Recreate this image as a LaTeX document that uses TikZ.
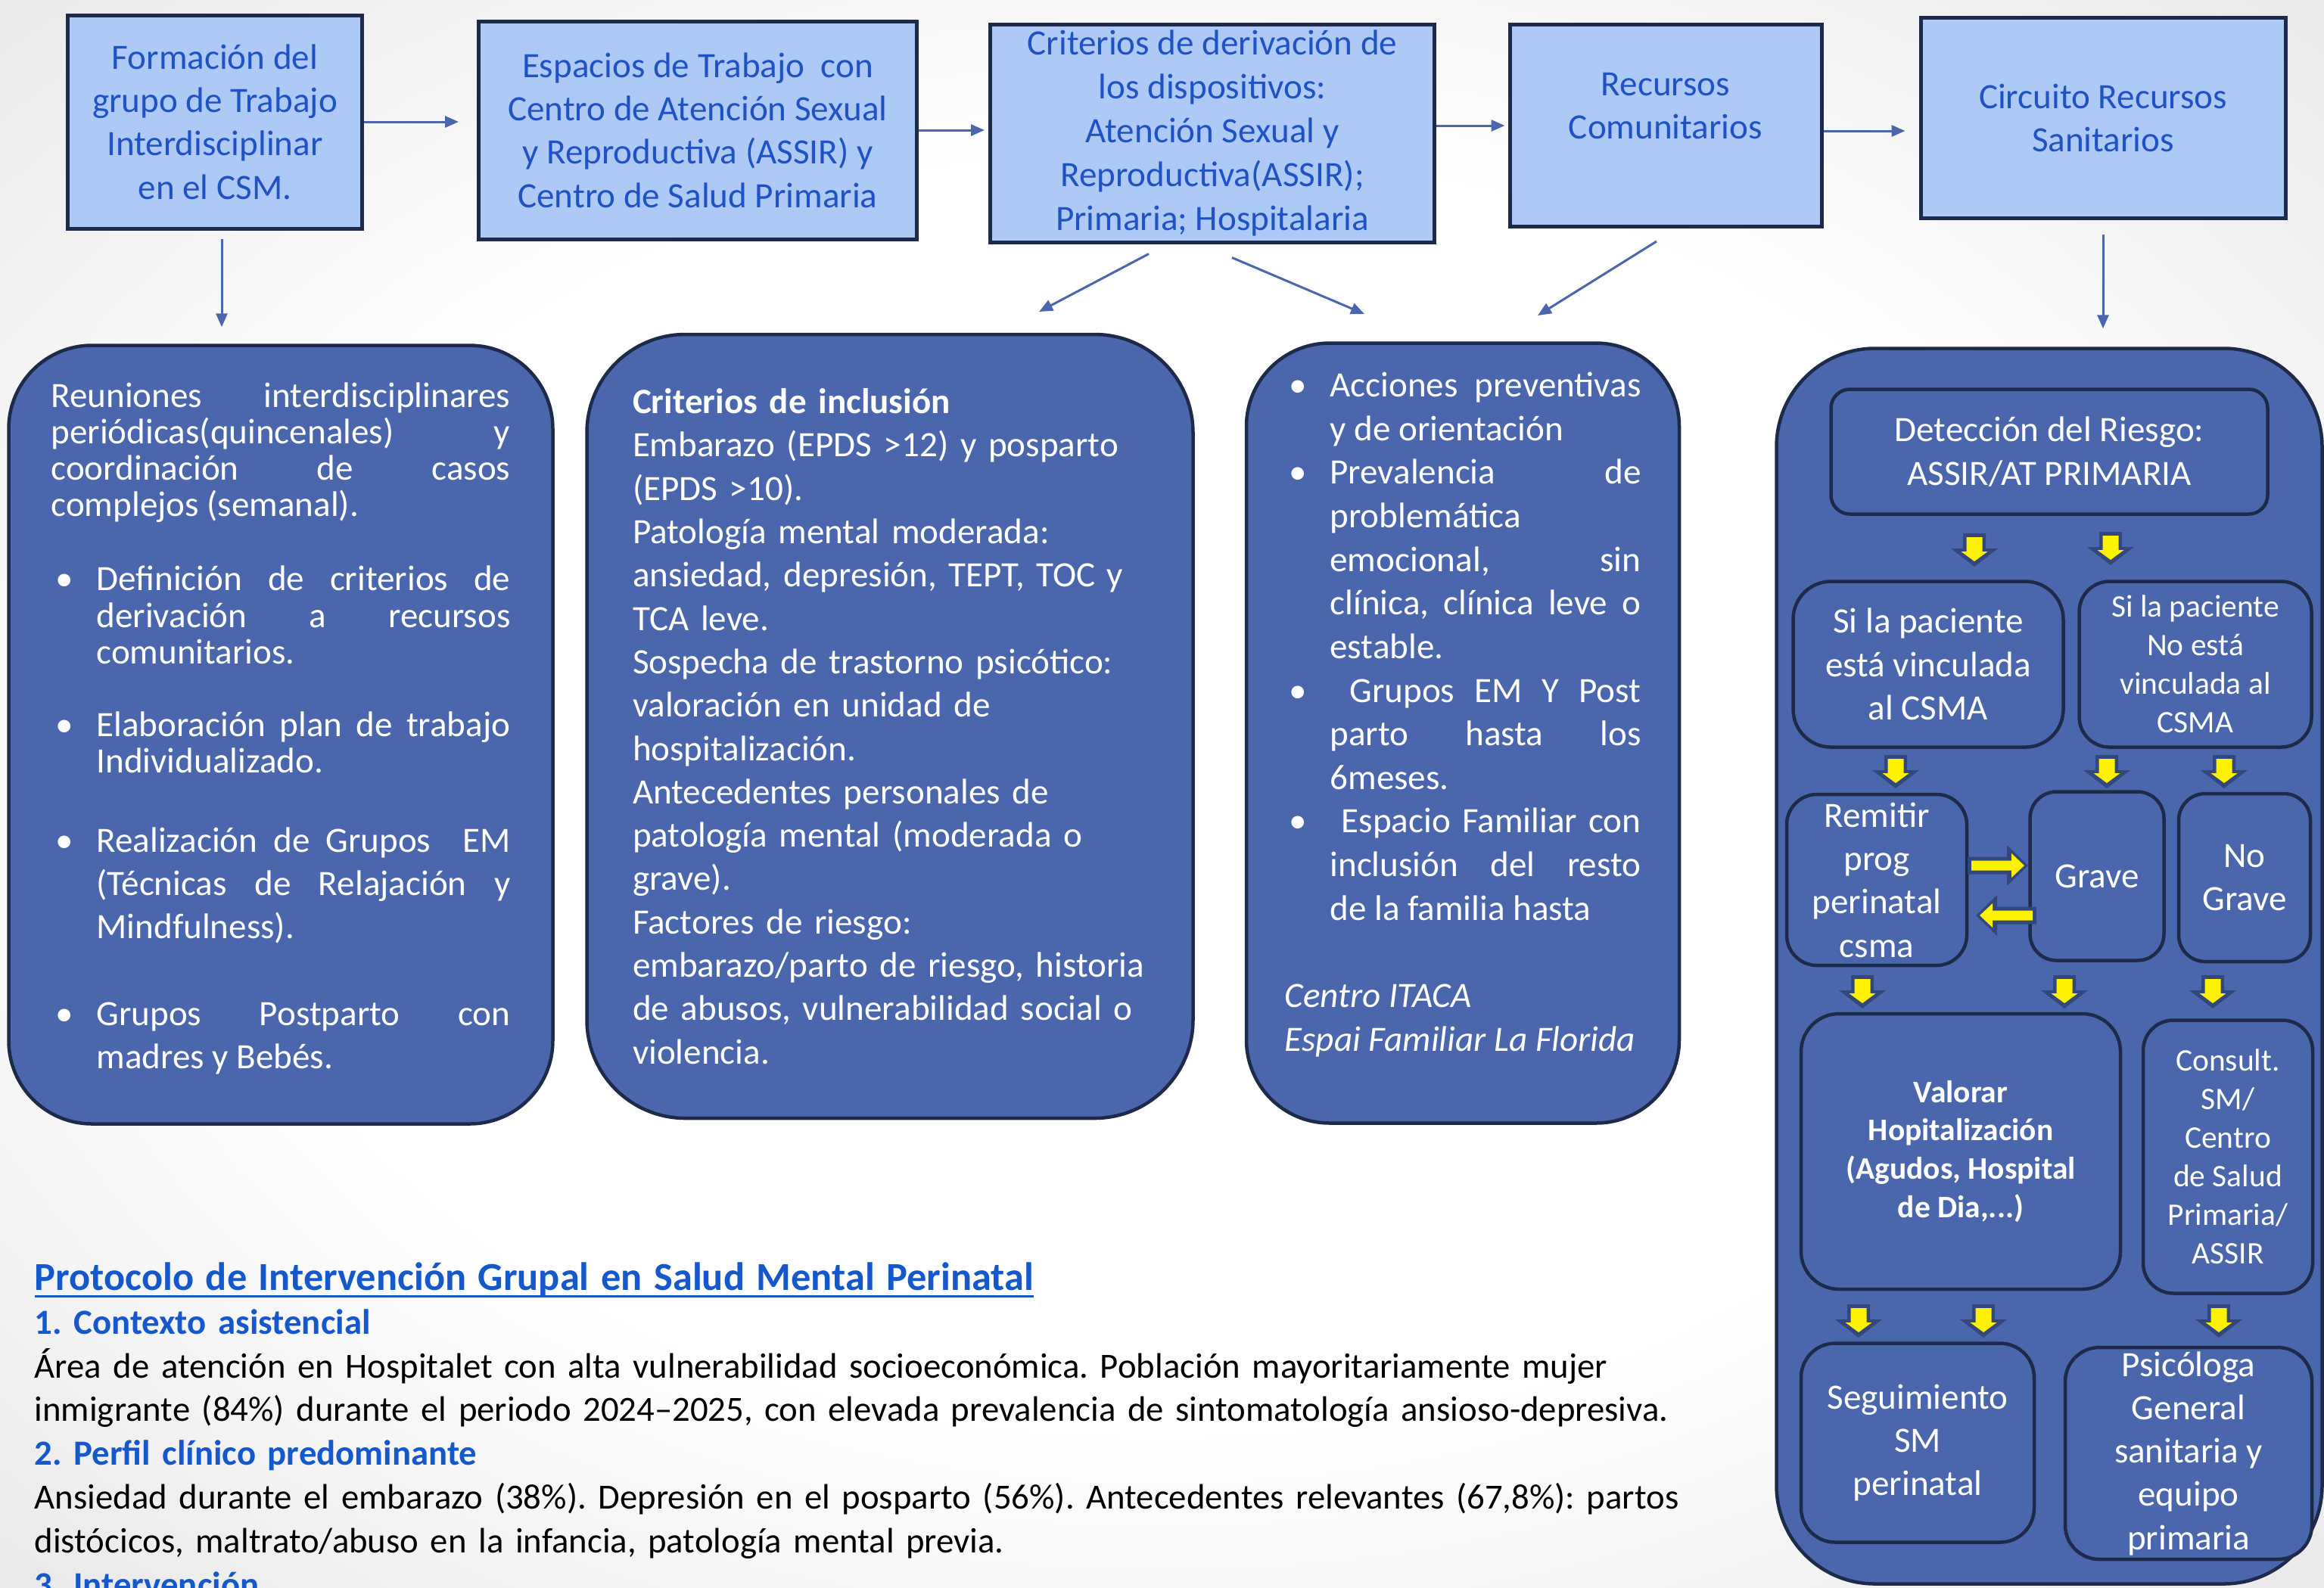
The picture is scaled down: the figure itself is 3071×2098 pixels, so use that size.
\documentclass[tikz,border=0pt]{standalone}
\usepackage{fontspec}
\setmainfont{Carlito}
\usetikzlibrary{shapes, arrows.meta, positioning}
\definecolor{azulclaro}{HTML}{ADC9F6}
\definecolor{azulmedio}{HTML}{4A67AD}
\definecolor{borde}{HTML}{1E2A4A}
\definecolor{azultexto}{HTML}{1F52C4}
\definecolor{azultitulo}{HTML}{1558CC}
\definecolor{bordeamarillo}{HTML}{33477D}
\pgfdeclareradialshading{fondo}{\pgfpoint{0bp}{0bp}}{color(0bp)=(white); color(20bp)=(white); color(50bp)=(black!17); color(72bp)=(black!27)}
\frenchspacing
\newcommand{\tam}[2]{\fontsize{#1}{#2}\selectfont}
\newcommand{\vineta}{\par\noindent\hangindent=6mm\hangafter=1\makebox[6mm][l]{\hspace{0.6mm}\textbullet}\ignorespaces}
\newcommand{\subrayado}[1]{\setbox0\hbox{#1}\rlap{\rule[-2.7pt]{\wd0}{0.9pt}}\box0}
\tikzstyle{cajasup} = [draw=borde, fill=azulclaro, line width=0.5mm, text=azultexto, align=center, font=\tam{13.4}{16.3}, inner sep=0pt]
\tikzstyle{bloque} = [draw=borde, fill=azulmedio, line width=0.45mm, text=white, inner sep=0pt, font=\tam{13.4}{16.3}]
\tikzstyle{cajita} = [draw=borde, fill=azulmedio, line width=0.45mm, text=white, align=center, inner sep=0pt, font=\tam{13.4}{16.3}]
\tikzstyle{conector} = [draw=azulmedio, line width=0.3mm, -{Triangle[length=1.8mm, width=1.5mm]}]
\tikzstyle{sombra} = [fill=bordeamarillo]
\tikzstyle{amarilla} = [fill=yellow]
\tikzset{
	flechabaja/.pic={
		\path[sombra] (-15,-21) -- (15,-21) -- (15,-1) -- (31,-1) -- (0,23) -- (-31,-1) -- (-15,-1) -- cycle;
		\path[amarilla] (-10.5,-16) -- (10.5,-16) -- (10.5,3) -- (17.5,3) -- (0,16) -- (-17.5,3) -- (-10.5,3) -- cycle;},
	flechalado/.pic={
		\path[sombra] (-42,-11.5) -- (10,-11.5) -- (10,-27) -- (38,0) -- (10,27) -- (10,11.5) -- (-42,11.5) -- cycle;
		\path[amarilla] (-37,-6.5) -- (16,-6.5) -- (16,-16) -- (33,0) -- (16,16) -- (16,6.5) -- (-37,6.5) -- cycle;}
}

\begin{document}
\begin{tikzpicture}[x=0.1mm, y=-0.1mm]
	\shade[shading=fondo] (0,0) rectangle (3071,2098);
	\useasboundingbox (0,0) rectangle (3071,2098);

	\node[cajasup, minimum width=38.9mm, minimum height=28.2mm] (formacion) at (284,161) {Formación del\\grupo de Trabajo\\Interdisciplinar\\en el CSM.};
	\node[cajasup, minimum width=57.9mm, minimum height=28.8mm] (espacios) at (922,172) {Espacios de Trabajo\ \ con\\Centro de Atención Sexual\\y Reproductiva (ASSIR) y\\Centro de Salud Primaria};
	\node[cajasup, minimum width=58.7mm, minimum height=28.8mm, font=\tam{13.4}{16.5}] (criterios) at (1602,176) {Criterios de derivación de\\los dispositivos:\\Atención Sexual y\\Reproductiva(ASSIR);\\Primaria; Hospitalaria};
	\node[cajasup, minimum width=41.2mm, minimum height=26.7mm] (recursos) at (2201,166) {};
	\node[text=azultexto, align=center, font=\tam{13.4}{16.3}, inner sep=0pt] (recursostexto) at ([yshift=2.6mm]recursos.center) {Recursos\\Comunitarios};
	\node[cajasup, minimum width=48.2mm, minimum height=26.5mm] (circuito) at (2779,156) {Circuito Recursos\\Sanitarios};

	\node[bloque, rounded corners=11mm, minimum width=71.9mm, minimum height=102.9mm, text width=60.7mm, align=justify] (reuniones) at (371,971) {%
		\tam{13.4}{13.7}Reuniones interdisciplinares\linebreak periódicas(quincenales) y\linebreak coordinación de casos\linebreak complejos (semanal).\par
		\vspace{5mm}
		\vineta Definición de criterios de\linebreak derivación a recursos\linebreak comunitarios.\par
		\vspace{4.8mm}
		\vineta Elaboración plan de trabajo\linebreak Individualizado.\par
		\vspace{4.75mm}
		\tam{13.4}{16.3}\vineta Realización de Grupos\ \ EM\linebreak (Técnicas de Relajación y\linebreak Mindfulness).\par
		\vspace{5.75mm}
		\vineta Grupos Postparto con\linebreak madres y Bebés.\par
		\vspace*{1.6mm}};
	\node[bloque, rounded corners=13mm, minimum width=80.1mm, minimum height=103.6mm, text width=68mm, align=left] (inclusion) at (1176,960) {\textbf{Criterios de inclusión}\\Embarazo (EPDS >12) y posparto\\(EPDS >10).\\Patología mental moderada:\\ansiedad, depresión, TEPT, TOC y\\TCA leve.\\Sospecha de trastorno psicótico:\\valoración en unidad de\\hospitalización.\\Antecedentes personales de\\patología mental (moderada o\\grave).\\Factores de riesgo:\\embarazo/parto de riesgo, historia\\de abusos, vulnerabilidad social o\\violencia.};
	\node[bloque, rounded corners=11mm, minimum width=57.2mm, minimum height=103.1mm, text width=47.1mm, align=justify, font=\tam{13.4}{16.4}] (acciones) at (1933,969) {%
		\vineta Acciones preventivas\linebreak y de orientación\par
		\vineta Prevalencia de\linebreak problemática\linebreak emocional, sin\linebreak clínica, clínica leve o\linebreak estable.\par
		\vineta\ Grupos EM Y Post\linebreak parto hasta los\linebreak 6meses.\par
		\vineta\ Espacio Familiar con\linebreak inclusión del resto\linebreak de la familia hasta\par
		\vspace{5.8mm}
		\noindent\textit{Centro ITACA}\par
		\noindent\textit{Espai Familiar La Florida}\par
		\vspace*{7.4mm}};

	\node[bloque, rounded corners=13mm, minimum width=72.1mm, minimum height=163.3mm] (sanitarios) at (2708,1277) {};
	\node[cajita, rounded corners=2.5mm, minimum width=57.7mm, minimum height=16.5mm] (deteccion) at (2708,597) {Detección del Riesgo:\\ASSIR/AT PRIMARIA};
	\node[cajita, rounded corners=5mm, minimum width=35.7mm, minimum height=21.9mm] (vinculada) at (2548,878) {Si la paciente\\está vinculada\\al CSMA};
	\node[cajita, rounded corners=4mm, minimum width=30.7mm, minimum height=21.9mm, font=\tam{11.8}{14.5}] (novinculada) at (2901,878) {Si la paciente\\No está\\vinculada al\\CSMA};
	\node[cajita, rounded corners=4mm, minimum width=23.8mm, minimum height=22.6mm] (remitir) at (2480,1163) {Remitir\\prog\\perinatal\\csma};
	\node[cajita, rounded corners=3.5mm, minimum width=17.7mm, minimum height=22.3mm] (grave) at (2771,1158) {Grave};
	\node[cajita, rounded corners=3.5mm, minimum width=17.4mm, minimum height=22.2mm] (nograve) at (2966,1160) {No\\Grave};
	\node[cajita, rounded corners=5mm, minimum width=42.2mm, minimum height=36.4mm, font=\bfseries\tam{11.8}{14.5}] (valorar) at (2591,1522) {Valorar\\Hopitalización\\(Agudos, Hospital\\de Dia,...)};
	\node[cajita, rounded corners=4mm, minimum width=22.4mm, minimum height=36.1mm, font=\tam{11.8}{14.5}] (consult) at (2944,1529) {Consult.\\SM/\\Centro\\de Salud\\Primaria/\\ASSIR};
	\node[cajita, rounded corners=4.5mm, minimum width=30.8mm, minimum height=26.3mm] (seguimiento) at (2534,1907) {Seguimiento\\SM\\perinatal};
	\node[cajita, rounded corners=4.5mm, minimum width=32.6mm, minimum height=28mm] (psicologa) at (2892,1921) {Psicóloga\\General\\sanitaria y\\equipo\\primaria};

	\foreach \p in {(2609,726), (2789,724), (2505,1019), (2784,1019), (2939,1019), (2461,1310), (2728,1310), (2924,1310), (2456,1745), (2621,1745), (2932,1745)}
		\pic at \p {flechabaja};
	\pic at (2642,1144) {flechalado};
	\pic[xscale=-1] at (2649,1210) {flechalado};

	\coordinate (c1) at (1373,412);
	\coordinate (c2) at (1803,415);
	\coordinate (c3) at (2032,417);
	\draw[conector, shorten >=2.4mm] (formacion.east) -- (formacion.east -| espacios.west);
	\draw[conector, shorten >=0.5mm] (espacios.east) -- (espacios.east -| criterios.west);
	\draw[conector, shorten >=0.4mm] (criterios.east |- recursos.west) -- (recursos.west);
	\draw[conector, shorten >=1.8mm] ([yshift=-0.7mm]recursos.east) -- ([yshift=-0.7mm]recursos.east -| circuito.west);
	\draw[conector, shorten <=1.1mm, shorten >=2.2mm] ([xshift=0.9mm]formacion.south) -- ([xshift=0.9mm]formacion.south |- reuniones.north);
	\draw[conector, shorten <=1.9mm, shorten >=2.4mm] (circuito.south) -- (circuito.south |- sanitarios.north);
	\draw[conector] ([xshift=-8.4mm, yshift=-1.3mm]criterios.south) -- (c1);
	\draw[conector] ([xshift=2.6mm, yshift=-1.8mm]criterios.south) -- (c2);
	\draw[conector] ([xshift=-1.2mm, yshift=-1.7mm]recursos.south) -- (c3);

	\node[anchor=north west, text width=240mm, align=left, font=\tam{13.3}{16.45}, inner sep=0pt] (protocolo) at (45,1668) {%
		{\tam{14.9}{17.3}\bfseries\color{azultitulo}\subrayado{Protocolo de Intervención Grupal en Salud Mental Perinatal}\par}
		{\color{azultitulo}\bfseries 1. Contexto asistencial\par}
		Área de atención en Hospitalet con alta vulnerabilidad socioeconómica. Población mayoritariamente mujer\\
		inmigrante (84\%) durante el periodo 2024–2025, con elevada prevalencia de sintomatología ansioso-depresiva.\par
		{\color{azultitulo}\bfseries 2. Perfil clínico predominante\par}
		Ansiedad durante el embarazo (38\%). Depresión en el posparto (56\%). Antecedentes relevantes (67,8\%): partos\\
		distócicos, maltrato/abuso en la infancia, patología mental previa.\par
		{\color{azultitulo}\bfseries 3. Intervención\par}};
\end{tikzpicture}
\end{document}
